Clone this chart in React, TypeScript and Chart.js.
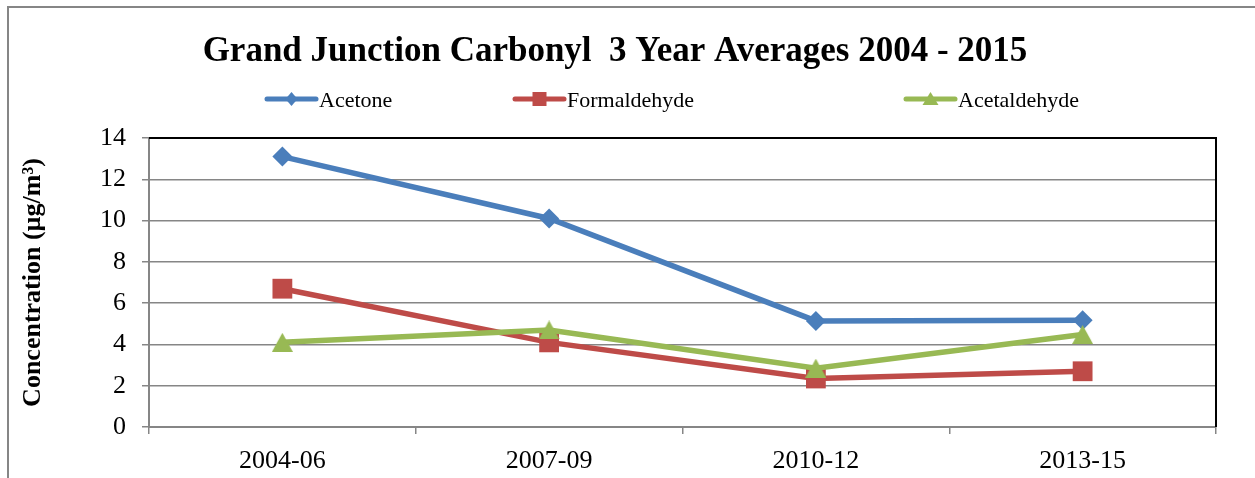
import React, { useEffect, useRef } from 'react';
import { Chart, registerables } from 'chart.js';

Chart.register(...registerables);

const categories = ['2004-06', '2007-09', '2010-12', '2013-15'];
const acetone = [13.1, 10.1, 5.14, 5.17];
const formaldehyde = [6.7, 4.1, 2.35, 2.7];
const acetaldehyde = [4.1, 4.7, 2.85, 4.48];
const seriesNames = ['Acetone', 'Formaldehyde', 'Acetaldehyde'];
const yMin = 0;
const yMax = 14;
const yStep = 2;
const titleText = 'Grand Junction Carbonyl  3 Year Averages 2004 - 2015';
const yAxisTitle = 'Concentration (µg/m³)';

const BLUE = '#4A7EBB';
const RED = '#BE4B48';
const GREEN = '#98B954';
const GRID = '#868686';
const SERIF = "'Liberation Serif', 'Times New Roman', serif";

function makeTriangle(w: number, h: number, color: string) {
  const c = document.createElement('canvas');
  c.width = w;
  c.height = h;
  const ctx = c.getContext('2d')!;
  ctx.fillStyle = color;
  ctx.beginPath();
  ctx.moveTo(w / 2, 0);
  ctx.lineTo(w, h);
  ctx.lineTo(0, h);
  ctx.closePath();
  ctx.fill();
  return c;
}

function drawMarker(ctx: CanvasRenderingContext2D, kind: string, x: number, y: number, color: string) {
  ctx.fillStyle = color;
  ctx.beginPath();
  if (kind === 'diamond') {
    ctx.moveTo(x, y - 7);
    ctx.lineTo(x + 6, y);
    ctx.lineTo(x, y + 7);
    ctx.lineTo(x - 6, y);
  } else if (kind === 'square') {
    ctx.rect(x - 7, y - 7, 14, 14);
  } else {
    ctx.moveTo(x, y - 7);
    ctx.lineTo(x + 8, y + 6);
    ctx.lineTo(x - 8, y + 6);
  }
  ctx.closePath();
  ctx.fill();
}

const decorPlugin = {
  id: 'decor',
  beforeDraw(chart: any) {
    const ctx = chart.ctx as CanvasRenderingContext2D;
    ctx.save();
    ctx.fillStyle = '#ffffff';
    ctx.fillRect(0, 0, chart.width, chart.height);
    ctx.strokeStyle = GRID;
    ctx.lineWidth = 2;
    ctx.strokeRect(8, 7, 1400, 800);
    // title
    ctx.fillStyle = '#000';
    ctx.font = `bold 35px ${SERIF}`;
    ctx.textAlign = 'center';
    ctx.textBaseline = 'alphabetic';
    ctx.fillText(titleText, 615, 61);
    // legend
    const xs = [267, 515, 906];
    const colors = [BLUE, RED, GREEN];
    const kinds = ['diamond', 'square', 'triangle'];
    for (let i = 0; i < seriesNames.length; i++) {
      const x0 = xs[i];
      ctx.strokeStyle = colors[i];
      ctx.lineWidth = 5;
      ctx.lineCap = 'round';
      ctx.beginPath();
      ctx.moveTo(x0, 99);
      ctx.lineTo(x0 + 49, 99);
      ctx.stroke();
      drawMarker(ctx, kinds[i], x0 + 24.5, 99, colors[i]);
      ctx.fillStyle = '#000';
      ctx.font = `22px ${SERIF}`;
      ctx.textAlign = 'left';
      ctx.fillText(seriesNames[i], x0 + 52, 107);
    }
    ctx.restore();
  },
  beforeDatasetsDraw(chart: any) {
    const ctx = chart.ctx as CanvasRenderingContext2D;
    const a = chart.chartArea;
    ctx.save();
    ctx.strokeStyle = '#000';
    ctx.lineWidth = 2;
    ctx.beginPath();
    ctx.moveTo(a.left, a.top);
    ctx.lineTo(a.right, a.top);
    ctx.lineTo(a.right, a.bottom);
    ctx.stroke();
    ctx.restore();
  },
};

export default function App() {
  const ref = useRef<HTMLCanvasElement>(null);
  useEffect(() => {
    if (!ref.current) return;
    const tri = makeTriangle(21, 19, GREEN);
    const chart = new Chart(ref.current, {
      type: 'line',
      data: {
        labels: categories,
        datasets: [
          {
            label: seriesNames[0],
            data: acetone,
            borderColor: BLUE,
            backgroundColor: BLUE,
            borderWidth: 5.5,
            pointStyle: 'rectRot',
            pointRadius: 10,
            pointBorderWidth: 0,
            order: 2,
          },
          {
            label: seriesNames[1],
            data: formaldehyde,
            borderColor: RED,
            backgroundColor: RED,
            borderWidth: 5.5,
            pointStyle: 'rect',
            pointRadius: 14,
            pointBorderWidth: 0,
            order: 1,
          },
          {
            label: seriesNames[2],
            data: acetaldehyde,
            borderColor: GREEN,
            backgroundColor: GREEN,
            borderWidth: 5.5,
            pointStyle: tri as any,
            pointRadius: 10,
            order: 0,
          },
        ],
      },
      options: {
        animation: false,
        responsive: false,
        devicePixelRatio: 1,
        layout: { padding: { left: 0, right: 39, top: 138, bottom: 0 } },
        plugins: {
          legend: { display: false },
          title: { display: false },
          tooltip: { enabled: false },
        },
        scales: {
          x: {
            offset: true,
            afterFit: (s: any) => {
              s.height = 51;
            },
            grid: {
              display: true,
              drawOnChartArea: false,
              drawTicks: true,
              tickLength: 7,
              color: GRID,
              lineWidth: 1.5,
              offset: true,
            },
            border: { display: true, color: GRID, width: 2 },
            ticks: {
              color: '#000',
              font: { family: SERIF, size: 26 },
              padding: 12,
              maxRotation: 0,
            },
          },
          y: {
            min: yMin,
            max: yMax,
            afterFit: (s: any) => {
              s.width = 149;
            },
            grid: {
              color: GRID,
              lineWidth: 1.5,
              drawTicks: true,
              tickLength: 7,
            },
            border: { display: true, color: GRID, width: 2 },
            ticks: {
              stepSize: yStep,
              color: '#000',
              font: { family: SERIF, size: 26 },
              padding: 16,
            },
            title: {
              display: true,
              text: yAxisTitle,
              color: '#000',
              font: { family: SERIF, size: 26, weight: 'bold' },
              padding: { top: 18, bottom: 0 },
            },
          },
        },
      },
      plugins: [decorPlugin],
    });
    return () => chart.destroy();
  }, []);
  return (
    <div style={{ position: 'absolute', left: 0, top: 0, width: 1255, height: 478 }}>
      <canvas ref={ref} width={1255} height={478} />
    </div>
  );
}
